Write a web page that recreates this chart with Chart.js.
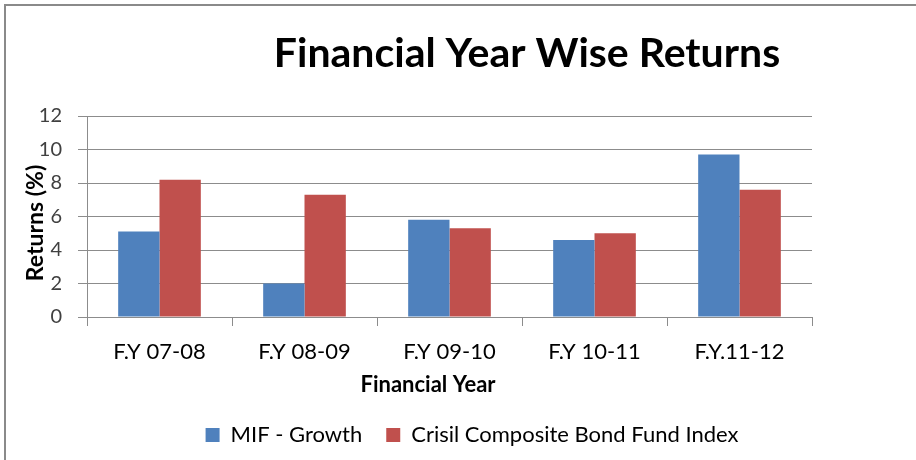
<!DOCTYPE html>
<html>
<head>
<meta charset="utf-8">
<script src="https://cdn.jsdelivr.net/npm/chart.js@4.4.1/dist/chart.umd.min.js"></script>
<style>
  html, body { margin: 0; padding: 0; background: #fff; }
  #frame { position: absolute; left: 4px; top: 4px; width: 940px; height: 480px;
           border-left: 2px solid #8a8a8a; border-top: 2px solid #8a8a8a; }
  #wrap { position: absolute; left: 0; top: 0; width: 916px; height: 460px; }
</style>
</head>
<body>
<div id="frame"></div>
<div id="wrap"><canvas id="chart" width="916" height="460"></canvas></div>
<script>
// values
const years = ['F.Y 07-08', 'F.Y 08-09', 'F.Y 09-10', 'F.Y 10-11', 'F.Y.11-12'];
const mifGrowth = [5.1, 2.0, 5.8, 4.6, 9.7];
const crisilIndex = [8.2, 7.3, 5.3, 5.0, 7.6];
const titleText = 'Financial Year Wise Returns';
const xTitle = 'Financial Year';
const yTitle = 'Returns (%)';

const fontFamily = 'Lato, "Open Sans", sans-serif';

// chart title and axis titles, placed like the reference (not centred on the plot)
const titlesPlugin = {
  id: 'titles',
  afterDraw(chart) {
    const ctx = chart.ctx;
    ctx.save();
    ctx.fillStyle = '#000';
    ctx.textAlign = 'center';
    ctx.textBaseline = 'alphabetic';
    ctx.font = 'bold 41px ' + fontFamily;
    ctx.fillText(titleText, 527, 67);

    ctx.textBaseline = 'middle';
    ctx.font = 'bold 22px ' + fontFamily;
    ctx.fillText(xTitle, 428, 385);

    ctx.translate(36, 223);
    ctx.rotate(-Math.PI / 2);
    ctx.font = 'bold 23px ' + fontFamily;
    ctx.fillText(yTitle, 0, 0);
    ctx.restore();
  }
};

new Chart(document.getElementById('chart').getContext('2d'), {
  type: 'bar',
  data: {
    labels: years,
    datasets: [
      { label: 'MIF - Growth', data: mifGrowth, backgroundColor: '#4F81BD' },
      { label: 'Crisil Composite Bond Fund Index', data: crisilIndex, backgroundColor: '#C0504D' }
    ]
  },
  options: {
    responsive: false,
    animation: false,
    layout: { padding: { left: 28, right: 0, top: 116, bottom: 4 } },
    datasets: { bar: { categoryPercentage: 0.57, barPercentage: 1.0 } },
    plugins: {
      legend: {
        position: 'bottom',
        labels: {
          boxWidth: 14, boxHeight: 14, padding: 24,
          color: '#000',
          font: { family: fontFamily, size: 22 }
        }
      },
      tooltip: { enabled: false }
    },
    scales: {
      x: {
        grid: { offset: true, drawOnChartArea: false, tickLength: 9, color: '#8c8c8c' },
        border: { color: '#8c8c8c' },
        ticks: { color: '#000', padding: 13, font: { family: fontFamily, size: 22 } },
        afterFit(scale) { scale.height = 83; }
      },
      y: {
        min: 0, max: 12,
        grid: { color: '#8c8c8c', tickLength: 9 },
        border: { color: '#8c8c8c' },
        ticks: { stepSize: 2, color: '#404040', padding: 16, font: { family: fontFamily, size: 20 } },
        afterFit(scale) { scale.width = 59; }
      },
      // empty right-hand axis that only keeps the white margin right of the plot
      yRight: {
        position: 'right',
        min: 0, max: 12,
        grid: { display: false },
        border: { display: false },
        ticks: { display: false },
        afterFit(scale) { scale.width = 104; }
      }
    }
  },
  plugins: [titlesPlugin]
});
</script>
</body>
</html>
